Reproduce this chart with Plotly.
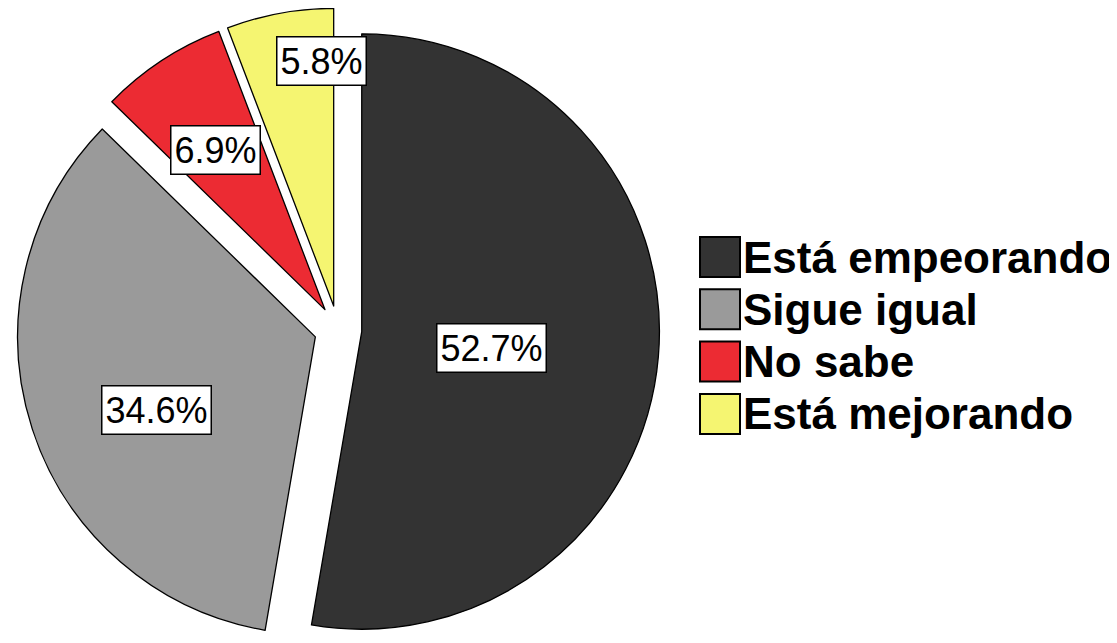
import math

import plotly.graph_objects as go

# Data (percent of respondents)
labels = ["Está empeorando", "Sigue igual", "No sabe", "Está mejorando"]
values = [52.7, 34.6, 6.9, 5.8]
colors = ["#333333", "#9a9a9a", "#ec2b33", "#f5f571"]

# Layout / styling
W, H = 1117, 643
OFF = 8  # the page body adds an 8px margin around the plot div
PULL = 0.08
DOMAIN_X = (0.0072 - OFF / W, 0.598 - OFF / W)
LABEL_FRAC = [0.44, 0.587, 0.65, 0.823]   # radial position of each value box
LABEL_DANGLE = [2, -6, -1, 7]             # small angular nudge, degrees
FONT = "Liberation Sans, Arial, sans-serif"

fig = go.Figure(
    go.Pie(
        labels=labels,
        values=values,
        sort=False,
        direction="clockwise",
        rotation=0,
        pull=[PULL] * len(values),
        marker=dict(colors=colors, line=dict(color="#000000", width=1.3)),
        textinfo="none",
        hoverinfo="label+percent",
        showlegend=False,
        domain=dict(x=list(DOMAIN_X), y=[0, 1]),
    )
)

# Value boxes: place each one on its slice using the pie geometry plotly uses
cx = (DOMAIN_X[0] + DOMAIN_X[1]) / 2 * W
cy = H / 2
r = min((DOMAIN_X[1] - DOMAIN_X[0]) * W, H) / 2 / (1 + PULL)
total = sum(values)
cum = 0.0
annotations = []
for val, frac, dang in zip(values, LABEL_FRAC, LABEL_DANGLE):
    mid = (cum + val / 2) / total * 2 * math.pi + math.radians(dang)
    cum += val
    dist = (PULL + frac) * r
    px_ = cx + dist * math.sin(mid)
    py_ = cy - dist * math.cos(mid)
    annotations.append(
        dict(
            x=px_ / W,
            y=1 - py_ / H,
            xref="paper",
            yref="paper",
            xanchor="center",
            yanchor="middle",
            text=f"{val}%",
            showarrow=False,
            font=dict(family=FONT, size=36, color="#000000"),
            bgcolor="#ffffff",
            bordercolor="#000000",
            borderwidth=1.5,
            borderpad=3,
        )
    )

# Hand-built legend so the swatches can be as large as the reference's
shapes = []
SW_X0, SW_SIZE, SW_TOP, SW_STEP = 700 - OFF, 40, 237 - OFF, 52.3
for i, (lab, col) in enumerate(zip(labels, colors)):
    top = SW_TOP + i * SW_STEP
    shapes.append(
        dict(
            type="rect",
            xref="paper",
            yref="paper",
            x0=SW_X0 / W,
            x1=(SW_X0 + SW_SIZE) / W,
            y0=1 - (top + SW_SIZE) / H,
            y1=1 - top / H,
            fillcolor=col,
            line=dict(color="#000000", width=2),
        )
    )
    annotations.append(
        dict(
            x=(SW_X0 + SW_SIZE + 1) / W,
            y=1 - (top + SW_SIZE / 2) / H,
            xref="paper",
            yref="paper",
            xanchor="left",
            yanchor="middle",
            text=f"<b>{lab}</b>",
            showarrow=False,
            font=dict(family=FONT, size=44, color="#000000"),
        )
    )

fig.update_layout(
    width=W,
    height=H,
    margin=dict(l=0, r=0, t=0, b=0),
    paper_bgcolor="#ffffff",
    plot_bgcolor="#ffffff",
    annotations=annotations,
    shapes=shapes,
)

fig.write_html("out.html")
